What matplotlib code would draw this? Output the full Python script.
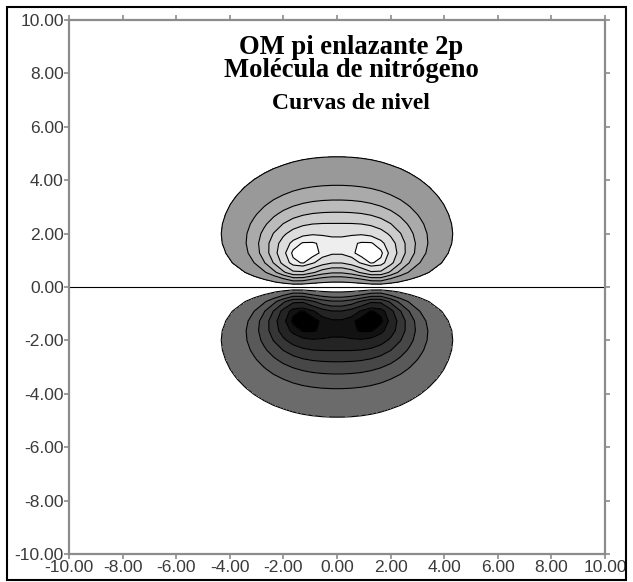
import numpy as np
import matplotlib
matplotlib.use("Agg")
import matplotlib.pyplot as plt
from matplotlib.patches import Rectangle

# ---- data / model parameters ----
nuclei_x = [-1.5, 1.5]          # positions of the two N centres on the x axis
decay_length = 1.1              # 2p orbital decay length
grid_points = 56                # coarse grid like the original software
axis_range = [-10.0, 10.0]
tick_values = [-10, -8, -6, -4, -2, 0, 2, 4, 6, 8, 10]
tick_labels = ["-10.00", "-8.00", "-6.00", "-4.00", "-2.00", "0.00",
               "2.00", "4.00", "6.00", "8.00", "10.00"]
level_fractions = [0.20, 0.39, 0.53, 0.66, 0.78, 0.89, 0.95]
pos_band_grays = [0.60, 0.667, 0.733, 0.80, 0.867, 0.933, 1.0]
neg_band_grays = [0.42, 0.35, 0.28, 0.21, 0.14, 0.07, 0.0]
title_lines = ["OM pi enlazante 2p", "Molécula de nitrógeno"]
subtitle = "Curvas de nivel"


def orbital(x, y):
    total = np.zeros_like(x)
    for xn in nuclei_x:
        r = np.sqrt((x - xn) ** 2 + y ** 2)
        total = total + y * np.exp(-r / decay_length)
    return total


# normalisation from a fine evaluation
fx, fy = np.meshgrid(np.linspace(-4, 4, 801), np.linspace(0, 4, 401))
amp = orbital(fx, fy).max()

gx = np.linspace(axis_range[0], axis_range[1], grid_points)
X, Y = np.meshgrid(gx, gx)
Z = orbital(X, Y) / amp

fill_levels = [-1.01] + [-v for v in level_fractions[::-1]] + level_fractions + [1.01]
fill_colors = ([str(g) for g in neg_band_grays[::-1]] + ["white"] +
               [str(g) for g in pos_band_grays])
line_levels = [-v for v in level_fractions[::-1]] + [0.0] + level_fractions

fig = plt.figure(figsize=(6.33, 5.82), dpi=100)
ax = fig.add_axes([69 / 633, 28 / 582, 536 / 633, 534 / 582])
ax.contourf(X, Y, Z, levels=fill_levels, colors=fill_colors)
ax.contour(X, Y, Z, levels=line_levels, colors="black", linewidths=0.8,
           linestyles="solid")

ax.set_xlim(axis_range)
ax.set_ylim(axis_range)
ax.set_xticks(tick_values)
ax.set_yticks(tick_values)
ax.set_xticklabels(tick_labels)
ax.set_yticklabels(tick_labels)
for s in ax.spines.values():
    s.set_color("#8c8c8c")
    s.set_linewidth(1.6)
ax.tick_params(direction="out", length=3.5, width=1.2, color="#8c8c8c",
               top=True, right=True, labelsize=12.5, labelcolor="#3a3a3a")
ax.tick_params(axis="y", pad=0.3)
ax.tick_params(axis="x", pad=0.5)
for lab in ax.get_xticklabels() + ax.get_yticklabels():
    lab.set_family("Liberation Sans")

cx = (351 - 69) / 536
ax.text(cx, 0.949, title_lines[0], transform=ax.transAxes, ha="center", va="center",
        family="Liberation Serif", weight="bold", fontsize=19.2)
ax.text(cx, 0.905, title_lines[1], transform=ax.transAxes, ha="center", va="center",
        family="Liberation Serif", weight="bold", fontsize=19.2)
ax.text(cx, 0.843, subtitle, transform=ax.transAxes, ha="center", va="center",
        family="Liberation Serif", weight="bold", fontsize=17)

fig.patches.append(Rectangle((7 / 633, 2 / 582), 619 / 633, 573 / 582,
                             transform=fig.transFigure, fill=False,
                             edgecolor="black", linewidth=1.5))

fig.savefig("out.png", dpi=100)
